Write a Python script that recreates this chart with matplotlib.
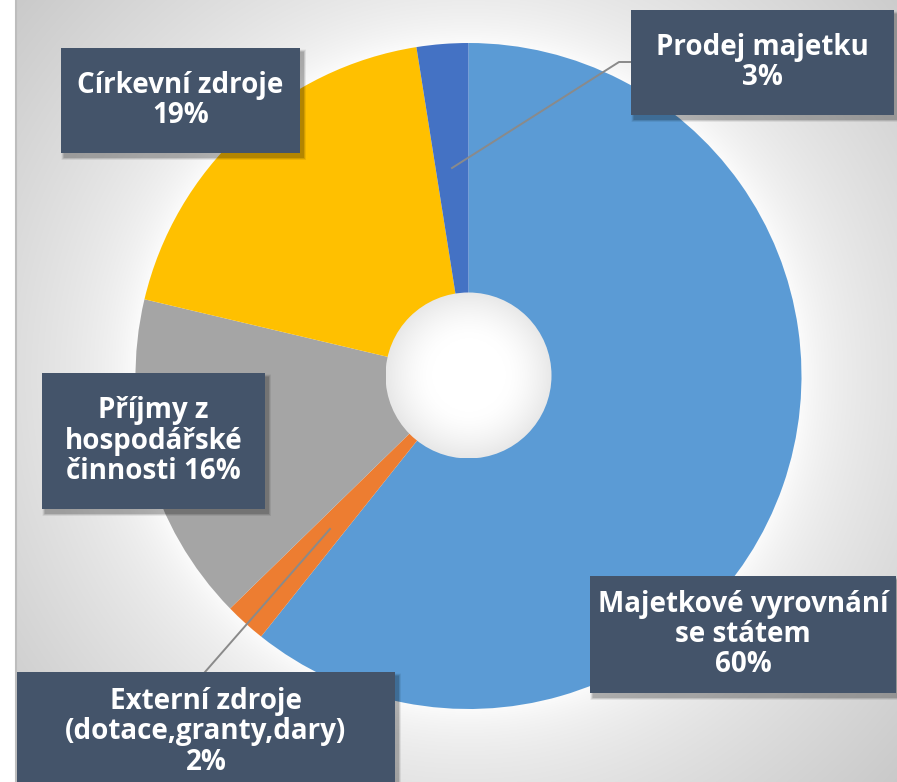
import numpy as np
import matplotlib
matplotlib.use("Agg")
import matplotlib.pyplot as plt
from matplotlib.patches import Rectangle, Circle

# data
names = ["Majetkové vyrovnání\nse státem", "Externí zdroje\n(dotace,granty,dary)",
         "Příjmy z\nhospodářské\nčinnosti", "Církevní zdroje", "Prodej majetku"]
values = [60.7, 2.0, 16.0, 18.8, 2.5]
pct_labels = ["60%", "2%", "16%", "19%", "3%"]
separators = ["\n", "\n", " ", "\n", "\n"]
colors = ["#5B9BD5", "#ED7D31", "#A5A5A5", "#FFC000", "#4472C4"]

W, H = 897, 782
fig = plt.figure(figsize=(W / 100, H / 100), dpi=100)
ax = fig.add_axes((0, 0, 1, 1))


def py(y):
    # pixel row (from top) -> data y
    return H - y


# background radial gradient
cx, cy = 468.5, 376
xx, yy = np.meshgrid(np.arange(16, W) + 0.5, np.arange(H) + 0.5)
r = np.hypot(xx - cx, yy - cy)
t = np.clip((r - 320) / 290, 0, 1)
shade = 0.97 - 0.19 * t ** 0.8
# light glow hugging the pie edge
shade = shade + 0.03 * np.exp(-np.clip(r - 333, 0, None) / 25)
bg = np.dstack([np.clip(shade, 0, 1)] * 3)
ax.imshow(bg, extent=(16, W, 0, H), origin="upper", zorder=0, interpolation="bilinear")
ax.plot([15.5, 15.5], [0, H], color="#bdbdbd", lw=1.5, zorder=1)

# pie
R = 333
ax.pie(values, colors=colors, startangle=90, counterclock=False,
       center=(cx, py(cy)), radius=R, frame=True,
       wedgeprops=dict(linewidth=0))

# hole with soft gradient
hole_r = 83
hcx, hcy = 468.5, 375.5
hx, hy = np.meshgrid(np.linspace(-1, 1, 200), np.linspace(-1, 1, 200))
hr = np.hypot(hx, hy)
hval = 1.0 - 0.09 * np.clip((hr - 0.45) / 0.55, 0, 1) ** 1.5
himg = np.dstack([hval] * 3)
im = ax.imshow(himg, extent=(hcx - hole_r, hcx + hole_r, py(hcy) - hole_r, py(hcy) + hole_r),
               zorder=5, interpolation="bilinear")
im.set_clip_path(Circle((hcx, py(hcy)), hole_r, transform=ax.transData))

# leader lines
ax.plot([452, 619, 631], [py(168), py(62), py(62)], color="#8a8a8a", lw=1.4, zorder=6)
ax.plot([330, 205], [py(529), py(672)], color="#8a8a8a", lw=1.4, zorder=6)

# label boxes: (x0, y0, x1, y1) in pixels, text centre y
boxes = [
    (590, 576, 896, 693, 634.5),
    (17, 672, 395, 800, 732),
    (42, 373, 265, 509, 441),
    (61, 48, 300, 153, 100.5),
    (631, 10, 894, 115, 62.5),
]

for i, (x0, y0, x1, y1, ty) in enumerate(boxes):
    # soft shadow
    for k, a in zip(range(6, 0, -1), [0.03, 0.04, 0.05, 0.06, 0.07, 0.08]):
        ax.add_patch(Rectangle((x0 + 3 - k / 2, py(y1) - 4 - k / 2), (x1 - x0) + k, (y1 - y0) + k,
                               facecolor="black", alpha=a, linewidth=0, zorder=7))
    ax.add_patch(Rectangle((x0, py(y1)), x1 - x0, y1 - y0, facecolor="#44546A",
                           linewidth=0, zorder=8))
    label = names[i] + separators[i] + pct_labels[i]
    ax.text((x0 + x1) / 2, py(ty), label, ha="center", va="center", color="white",
            fontsize=20, fontweight="bold", family="Open Sans", linespacing=1.05, zorder=9)

ax.set_xlim(0, W)
ax.set_ylim(0, H)
ax.set_aspect("auto")
ax.axis("off")

fig.savefig("out.png", dpi=100)
